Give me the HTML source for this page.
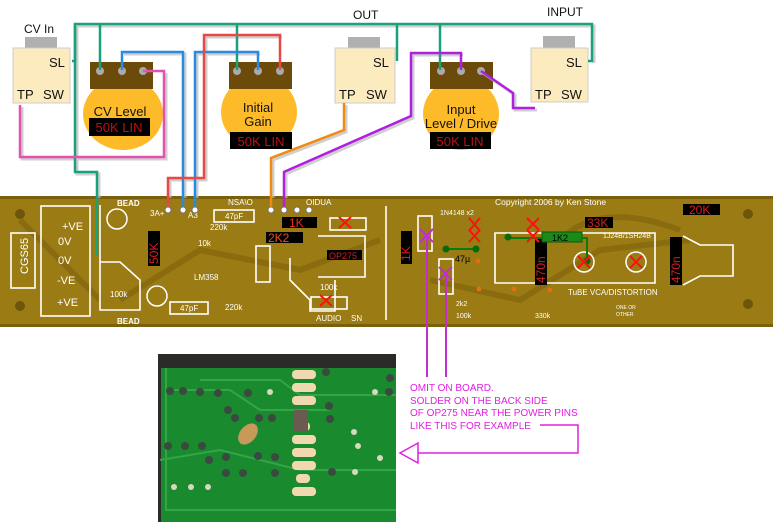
<!DOCTYPE html>
<html><head><meta charset="utf-8"><style>
html,body{margin:0;padding:0;background:#fff;}
svg{display:block;}
text{font-family:"Liberation Sans",sans-serif;}
</style></head><body>
<svg width="773" height="522" viewBox="0 0 773 522" xmlns="http://www.w3.org/2000/svg">
<!-- PCB -->
<rect x="0" y="196" width="773" height="131" fill="#9a7b14"/>
<g stroke="#86690e" stroke-width="6" fill="none" opacity="0.8">
<path d="M120 300 L200 250 L300 270 L380 240"/><path d="M430 280 L520 300 L600 250 L690 240"/><path d="M20 220 L60 260 L100 300"/><path d="M560 240 Q600 200 680 230"/>
</g>
<rect x="0" y="196" width="773" height="3" fill="#7a600c"/>
<rect x="0" y="324" width="773" height="3" fill="#7a600c"/>
<g stroke="#fff" stroke-width="1.6" fill="none">
<rect x="11" y="233" width="24" height="55"/>
<rect x="41" y="206" width="49" height="110"/>
<path d="M290 258 L290 280 L310 300 L310 311 L335 311 L335 280"/>
<path d="M100 262 L120 262 L140 280 L140 310 L100 310 Z"/>
<rect x="214" y="210" width="40" height="12"/>
<rect x="170" y="302" width="38" height="12"/>
<rect x="256" y="246" width="14" height="36"/>
<rect x="330" y="218" width="36" height="12"/>
<rect x="311" y="297" width="36" height="12"/>
<path d="M318 236 L365 236 L365 277 L318 277"/>
<rect x="418" y="216" width="14" height="35"/>
<rect x="439" y="259" width="14" height="35"/>
<path d="M495 233 L655 233 L655 283 L495 283 Z"/>
<path d="M683 236 L700 245 L733 245 L733 276 L700 276 L683 285"/>
<path d="M386 206 L386 320"/>
<path d="M100 205 L100 262"/>
</g>
<g fill="#fff" font-size="9">
<text x="62" y="230" font-size="11">+VE</text><text x="58" y="245" font-size="11">0V</text><text x="58" y="264" font-size="11">0V</text><text x="57" y="284" font-size="11">-VE</text><text x="57" y="306" font-size="11">+VE</text>
<text x="117" y="206" font-weight="bold" font-size="8">BEAD</text><text x="117" y="324" font-weight="bold" font-size="8">BEAD</text>
<text x="150" y="216" font-size="8">3A+</text><text x="188" y="218" font-size="8">A3</text>
<text x="225" y="219" font-size="8">47pF</text><text x="180" y="311" font-size="8">47pF</text>
<text x="210" y="230" font-size="8">220k</text><text x="225" y="310" font-size="8">220k</text>
<text x="198" y="246" font-size="8">10k</text><text x="194" y="280" font-size="8">LM358</text>
<text x="110" y="297" font-size="8">100k</text>
<text x="320" y="290" font-size="8">100k</text>
<text x="316" y="321" font-size="8">AUDIO</text><text x="351" y="321" font-size="8">SN</text>
<text x="306" y="205" font-size="8">OIDUA</text><text x="228" y="205" font-size="8">NSA\O</text>
<text x="495" y="205" font-size="8.5">Copyright 2006 by Ken Stone</text>
<text x="440" y="215" font-size="7">1N4148 x2</text>
<text x="603" y="238" font-size="7">1J24B/1SH24B</text>
<text x="568" y="295" font-size="8">TuBE  VCA/DISTORTION</text>
<text x="456" y="306" font-size="7">2k2</text><text x="456" y="318" font-size="7">100k</text><text x="535" y="318" font-size="7">330k</text>
<text x="616" y="309" font-size="5">ONE OR</text><text x="616" y="316" font-size="5">OTHER</text>
</g>
<text transform="translate(28,274) rotate(-90)" fill="#fff" font-size="11">CGS65</text>
<g fill="#6d560a"><circle cx="20" cy="214" r="5"/><circle cx="20" cy="306" r="5"/><circle cx="748" cy="214" r="5"/><circle cx="748" cy="304" r="5"/></g>
<g fill="none" stroke="#fff" stroke-width="1.5"><circle cx="117" cy="219" r="10"/><circle cx="157" cy="296" r="10"/><circle cx="584" cy="262" r="10"/><circle cx="636" cy="262" r="10"/></g>
<!-- labels -->
<g font-size="11">
<rect x="148" y="231" width="12" height="35" fill="#000"/><text transform="translate(158,264) rotate(-90)" fill="#d02020" font-size="12">50K</text>
<rect x="282" y="217" width="35" height="11" fill="#000"/><text x="289" y="227" fill="#e03020" font-size="12">1K</text>
<rect x="266" y="232" width="37" height="11" fill="#000"/><text x="268" y="242" fill="#e05020" font-size="12">2K2</text>
<rect x="327" y="250" width="35" height="10" fill="#000"/><text x="329" y="259" fill="#d02020" font-size="9">OP275</text>
<rect x="401" y="231" width="11" height="33" fill="#000"/><text transform="translate(410,261) rotate(-90)" fill="#d02020" font-size="12">1K</text>
<rect x="585" y="217" width="28" height="11" fill="#000"/><text x="587" y="227" fill="#d02020" font-size="12">33K</text>
<rect x="683" y="204" width="37" height="11" fill="#000"/><text x="689" y="214" fill="#d02020" font-size="12">20K</text>
<rect x="535" y="237" width="12" height="48" fill="#000"/><text transform="translate(545,283) rotate(-90)" fill="#d02020" font-size="12">470n</text>
<rect x="670" y="237" width="12" height="48" fill="#000"/><text transform="translate(680,283) rotate(-90)" fill="#d02020" font-size="12">470n</text>
</g>
<rect x="542" y="232" width="40" height="10" fill="#1a8a1a" stroke="#0b5a0b"/><text x="552" y="241" fill="#000" font-size="9">1K2</text>
<path d="M509 238 L542 238 M582 238 L587 238 L587 261" stroke="#0a7a0a" stroke-width="2" fill="none"/>
<circle cx="508" cy="237" r="3.5" fill="#0a6a0a"/><circle cx="587" cy="261" r="3.5" fill="#0a6a0a"/>
<path d="M447 249 L476 249" stroke="#0a7a0a" stroke-width="2"/><circle cx="446" cy="249" r="3.5" fill="#0a6a0a"/><circle cx="476" cy="249" r="3.5" fill="#0a6a0a"/>
<text x="455" y="262" fill="#000" font-size="9">47µ</text>
<g fill="#e07010"><circle cx="478" cy="261" r="2.5"/><circle cx="479" cy="289" r="2.5"/><circle cx="514" cy="289" r="2.5"/><circle cx="550" cy="290" r="2.5"/></g>
<g stroke="#ff1010" stroke-width="2"><path d="M339 217 L351 228 M351 217 L339 228"/><path d="M320 295 L332 306 M332 295 L320 306"/><path d="M469 218 L480 231 M480 218 L469 231"/><path d="M469 230 L480 242 M480 230 L469 242"/><path d="M527 218 L539 230 M539 218 L527 230"/><path d="M527 230 L539 242 M539 230 L527 242"/><path d="M578 256 L590 268 M590 256 L578 268"/><path d="M630 256 L642 268 M642 256 L630 268"/></g>
<g stroke="#c030d0" stroke-width="2"><path d="M420 229 L433 242 M433 229 L420 242"/><path d="M439 267 L452 280 M452 267 L439 280"/><path d="M427 236 L427 377 M446 273 L446 377"/></g>
<!-- jacks -->
<g>
<rect x="25" y="37" width="32" height="12" fill="#b0b0b0"/><rect x="13" y="48" width="57" height="55" fill="#fdebc0" stroke="#ccc"/>
<rect x="348" y="37" width="32" height="12" fill="#b0b0b0"/><rect x="335" y="48" width="60" height="55" fill="#fdebc0" stroke="#ccc"/>
<rect x="543" y="36" width="32" height="12" fill="#b0b0b0"/><rect x="531" y="48" width="57" height="54" fill="#fdebc0" stroke="#ccc"/>
</g>
<g font-size="13" fill="#111">
<text x="24" y="33" font-size="12">CV In</text><text x="49" y="67">SL</text><text x="17" y="99">TP</text><text x="43" y="99">SW</text>
<text x="353" y="19" font-size="12">OUT</text><text x="373" y="67">SL</text><text x="339" y="99">TP</text><text x="366" y="99">SW</text>
<text x="547" y="16" font-size="12">INPUT</text><text x="566" y="67">SL</text><text x="535" y="99">TP</text><text x="561" y="99">SW</text>
</g>
<!-- pots -->
<g>
<ellipse cx="123" cy="114" rx="40" ry="36" fill="#fdbb2a"/><rect x="90" y="62" width="63" height="27" fill="#6b4a0a"/>
<ellipse cx="259" cy="112" rx="38" ry="36" fill="#fdbb2a"/><rect x="229" y="62" width="63" height="27" fill="#6b4a0a"/>
<ellipse cx="461" cy="114" rx="38" ry="36" fill="#fdbb2a"/><rect x="430" y="62" width="63" height="27" fill="#6b4a0a"/>
</g>
<g fill="#aaa"><circle cx="100" cy="71" r="4"/><circle cx="122" cy="71" r="4"/><circle cx="143" cy="71" r="4"/><circle cx="237" cy="71" r="4"/><circle cx="258" cy="71" r="4"/><circle cx="280" cy="71" r="4"/><circle cx="441" cy="71" r="4"/><circle cx="461" cy="71" r="4"/><circle cx="481" cy="71" r="4"/></g>
<g font-size="13" fill="#111" text-anchor="middle">
<text x="120" y="116">CV Level</text><text x="258" y="112">Initial</text><text x="258" y="126">Gain</text><text x="461" y="114">Input</text><text x="461" y="128">Level / Drive</text>
</g>
<rect x="89" y="118" width="61" height="18" fill="#000"/><text x="119" y="132" fill="#c01010" font-size="13" text-anchor="middle">50K LIN</text>
<rect x="230" y="132" width="62" height="17" fill="#000"/><text x="261" y="146" fill="#c01010" font-size="13" text-anchor="middle">50K LIN</text>
<rect x="430" y="132" width="61" height="17" fill="#000"/><text x="460" y="146" fill="#c01010" font-size="13" text-anchor="middle">50K LIN</text>
<!-- wire shadows -->
<g fill="none" stroke="#bbb" stroke-width="3" transform="translate(2,2)" opacity="0.7">
<path d="M75 24 L592 24 L592 61"/><path d="M75 24 L75 172 L97 172 L97 196"/>
<path d="M122 52 L183 52 L183 196 M258 52 L195 52 L195 196"/>
<path d="M280 35 L204 35 L204 178 L168 178 L168 196"/>
<path d="M164 71 L164 157 L20 157 L20 105"/>
<path d="M344 103 L344 130 L271 158 L271 196"/>
<path d="M461 53 L411 53 L411 116 L284 172 L284 196"/>
<path d="M481 71 L513 93 L513 108 L535 108"/>
</g>
<!-- wires -->
<g fill="none" stroke-width="2.5" stroke-linejoin="miter">
<path d="M72 61 L75 61 L75 24 L592 24 L592 61 L588 61" stroke="#1aa07a"/>
<path d="M75 24 L75 172 L97 172 L97 255" stroke="#1aa07a"/>
<path d="M100 24 L100 70 M237 24 L237 70 M397 24 L397 61 M440 24 L440 70" stroke="#1aa07a"/>
<path d="M122 70 L122 52 L183 52 L183 210" stroke="#2a8ae0"/>
<path d="M258 70 L258 52 L195 52 L195 210" stroke="#2a8ae0"/>
<path d="M280 70 L280 35 L204 35 L204 178 L168 178 L168 210" stroke="#e84848"/>
<path d="M143 71 L164 71 L164 157 L20 157 L20 105" stroke="#e850b0"/>
<path d="M344 103 L344 130 L271 158 L271 210" stroke="#f08a10"/>
<path d="M461 70 L461 53 L411 53 L411 116 L284 172 L284 210" stroke="#b020e0"/>
<path d="M481 71 L513 93 L513 108 L535 108" stroke="#b020e0"/>
</g>
<g fill="#fff" stroke="#777"><circle cx="168" cy="210" r="3"/><circle cx="183" cy="210" r="3"/><circle cx="195" cy="210" r="3"/><circle cx="271" cy="210" r="3"/><circle cx="284" cy="210" r="3"/><circle cx="297" cy="210" r="3"/><circle cx="309" cy="210" r="3"/></g>
<!-- photo -->
<rect x="158" y="354" width="238" height="168" fill="#198a2e"/>
<rect x="158" y="354" width="238" height="14" fill="#2a2a28"/>
<rect x="158" y="368" width="3" height="154" fill="#2a2a28"/>
<g fill="none" stroke="#33a548" stroke-width="2"><path d="M170 390 L230 390 L260 410 L330 410"/><path d="M160 460 L220 450 L300 470 L396 470"/><path d="M200 380 L280 380 L300 395 L396 395"/><path d="M166 368 L166 510 L396 510"/></g>
<g fill="#f0d8b0"><rect x="292" y="370" width="24" height="9" rx="4"/><rect x="292" y="383" width="24" height="9" rx="4"/><rect x="292" y="396" width="24" height="9" rx="4"/><rect x="292" y="435" width="24" height="9" rx="4"/><rect x="292" y="448" width="24" height="9" rx="4"/><rect x="292" y="461" width="24" height="9" rx="4"/><rect x="292" y="487" width="24" height="9" rx="4"/><rect x="296" y="474" width="14" height="9" rx="4"/><rect x="296" y="422" width="14" height="9" rx="4"/></g>
<g fill="#3a4a40"><circle cx="170" cy="391" r="4"/><circle cx="183" cy="391" r="4"/><circle cx="200" cy="392" r="4"/><circle cx="218" cy="393" r="4"/><circle cx="248" cy="393" r="4"/><circle cx="228" cy="410" r="4"/><circle cx="235" cy="418" r="4"/><circle cx="259" cy="418" r="4"/><circle cx="272" cy="418" r="4"/><circle cx="168" cy="446" r="4"/><circle cx="185" cy="446" r="4"/><circle cx="202" cy="446" r="4"/><circle cx="209" cy="460" r="4"/><circle cx="226" cy="457" r="4"/><circle cx="258" cy="456" r="4"/><circle cx="275" cy="457" r="4"/><circle cx="226" cy="473" r="4"/><circle cx="243" cy="473" r="4"/><circle cx="275" cy="473" r="4"/><circle cx="326" cy="372" r="4"/><circle cx="329" cy="406" r="4"/><circle cx="330" cy="419" r="4"/><circle cx="332" cy="472" r="4"/><circle cx="390" cy="378" r="4"/><circle cx="389" cy="392" r="4"/></g>
<g fill="#d8d8c0"><circle cx="270" cy="392" r="3"/><circle cx="375" cy="392" r="3"/><circle cx="354" cy="432" r="3"/><circle cx="358" cy="446" r="3"/><circle cx="380" cy="458" r="3"/><circle cx="174" cy="487" r="3"/><circle cx="191" cy="487" r="3"/><circle cx="208" cy="487" r="3"/><circle cx="355" cy="472" r="3"/></g>
<ellipse cx="248" cy="434" rx="8" ry="12" transform="rotate(40 248 434)" fill="#c89a5a"/>
<rect x="294" y="410" width="14" height="21" fill="#6a5a50"/>
<!-- note -->
<g fill="#e020e0" font-size="10">
<text x="410" y="391">OMIT ON BOARD.</text><text x="410" y="404">SOLDER ON THE BACK SIDE</text><text x="410" y="416">OF OP275 NEAR THE POWER PINS</text><text x="410" y="429">LIKE THIS FOR EXAMPLE</text>
</g>
<path d="M540 425 L578 425 L578 453 L418 453" fill="none" stroke="#e020e0" stroke-width="1.5"/>
<path d="M418 443 L400 453 L418 463 Z" fill="#fff" stroke="#e020e0" stroke-width="1.5"/>
</svg>
</body></html>
